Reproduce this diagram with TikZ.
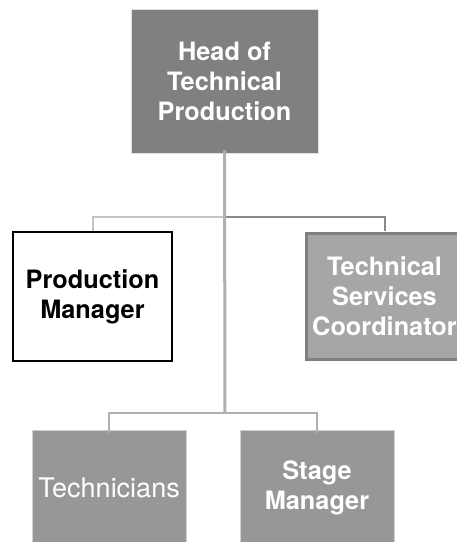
\documentclass[tikz,border=0pt]{standalone}
\usepackage{fontspec}
\setmainfont{TeX Gyre Heros}
\begin{document}
\begin{tikzpicture}[x=1pt,y=-1pt,
  box/.style={rectangle, align=center, inner sep=0pt,
    font=\bfseries\fontsize{25.3}{30}\selectfont},
  darkbox/.style={box, fill=headgray, draw=edgegray, line width=0.8pt, text=white},
  whitebox/.style={box, fill=white, draw=black, line width=2pt, text=black},
  midbox/.style={box, fill=midgray, draw=coordedge, line width=3pt, text=white},
  lowbox/.style={box, fill=lowgray, draw=lowedge, line width=1pt, text=white},
  trunk/.style={draw=trunkgray, line width=3pt},
  leftlink/.style={draw=lightlink, line width=2pt},
  rightlink/.style={draw=darklink, line width=2pt},
  lowlink/.style={draw=trunkgray, line width=2.5pt}]
\definecolor{headgray}{HTML}{808080}
\definecolor{edgegray}{HTML}{E0E0E0}
\definecolor{midgray}{HTML}{A6A6A6}
\definecolor{coordedge}{HTML}{808080}
\definecolor{lowgray}{HTML}{979797}
\definecolor{lowedge}{HTML}{D0D0D0}
\definecolor{trunkgray}{HTML}{B0B0B0}
\definecolor{lightlink}{HTML}{C4C4C4}
\definecolor{darklink}{HTML}{888888}

\useasboundingbox (0,0) rectangle (457,542);
\clip (0,0) rectangle (457,542);

% boxes of the chart
\node[darkbox, minimum width=187pt, minimum height=144pt] (head) at (224.5,81) {Head of\\Technical\\Production};
\node[whitebox, minimum width=159pt, minimum height=129pt] (pm) at (92.5,296.5) {Production\\Manager};
\node[midbox, minimum width=157pt, minimum height=126pt] (tsc) at (384.5,296.5) {Technical\\Services\\Coordinator};
\node[lowbox, minimum width=154pt, minimum height=116pt] (tech) at (109,488) {\mdseries\fontsize{27}{30}\selectfont Technicians};
\node[lowbox, minimum width=154pt, minimum height=116pt] (sm) at (317,488) {Stage\\Manager};

% junctions on the trunk line
\coordinate (j1) at (225,217);
\coordinate (j2) at (225,413);

% connectors
\draw[leftlink] (j1) -| (pm.north);
\draw[rightlink] (j1) -| ([yshift=1pt]tsc.north);
\draw[lowlink] (j2) -| ([yshift=-3pt]tech.north);
\draw[lowlink] (j2) -| ([yshift=-3pt]sm.north);
\draw[trunk] ([yshift=3pt]head.south) -- (j2);
\end{tikzpicture}
\end{document}
